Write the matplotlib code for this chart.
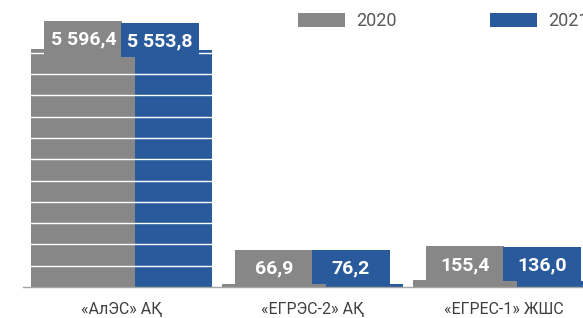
import matplotlib
matplotlib.use('Agg')
import matplotlib.pyplot as plt
import numpy as np

plt.rcParams['font.family'] = ['Roboto', 'DejaVu Sans']

# data
categories = ['«АлЭС» АҚ', '«ЕГРЭС-2» АҚ', '«ЕГРЕС-1» ЖШС']
years = ['2020', '2021']
values_2020 = [5596.4, 66.9, 155.4]
values_2021 = [5553.8, 76.2, 136.0]
labels_2020 = ['5 596,4', '66,9', '155,4']
labels_2021 = ['5 553,8', '76,2', '136,0']

GRAY = '#878787'
BLUE = '#295B9C'

W, H = 583, 318
fig = plt.figure(figsize=(W / 100, H / 100), dpi=100)
ax = fig.add_axes([23 / W, 31 / H, 579 / W, 255.6 / H])

x = np.arange(len(categories))
bar_w = 0.545
off = 0.2

# blue under gray where they overlap
b21 = ax.bar(x + off, values_2021, bar_w, color=BLUE, zorder=1, label=years[1])
b20 = ax.bar(x - off, values_2020, bar_w, color=GRAY, zorder=1.2, label=years[0])

ax.set_xlim(-0.516, 2.516)
ax.set_ylim(0, 6000)
ax.set_yticks(np.arange(500, 6000, 500))
ax.yaxis.grid(True, color='white', linewidth=1.0)
ax.set_axisbelow(False)
ax.tick_params(axis='y', left=False, labelleft=False)
ax.tick_params(axis='x', bottom=False, pad=7.5)
ax.set_xticks(x)
ax.set_xticklabels(categories, fontsize=11.5, color='#404040')
for s in ['left', 'right', 'top']:
    ax.spines[s].set_visible(False)
ax.spines['bottom'].set_color('#A5A5A5')
ax.spines['bottom'].set_linewidth(1.0)

# label boxes on top of bars (first group sits a bit lower)
box_w = 0.41
box_h = 800
shift = [-155, 0, 0]
for vals, labs, xs, col in [(values_2020, labels_2020, x - off, GRAY),
                            (values_2021, labels_2021, x + off, BLUE)]:
    for i in range(len(vals)):
        bottom = vals[i] + shift[i]
        ax.bar(xs[i], box_h, box_w, bottom=bottom, color=col, zorder=3, clip_on=False)
        ax.text(xs[i], bottom + box_h * 0.45, labs[i], ha='center', va='center',
                color='white', fontsize=14, fontweight='bold', zorder=4, clip_on=False)

fig.legend(handles=[b20, b21], labels=years, loc='upper left',
           bbox_to_anchor=(298 / W, 1 - 12 / H), ncol=2, frameon=False,
           fontsize=13, labelcolor='#595959', handlelength=2.6, handleheight=0.85,
           handletextpad=0.6, columnspacing=5.2, borderpad=0, borderaxespad=0)

fig.savefig('out.png', dpi=100)
